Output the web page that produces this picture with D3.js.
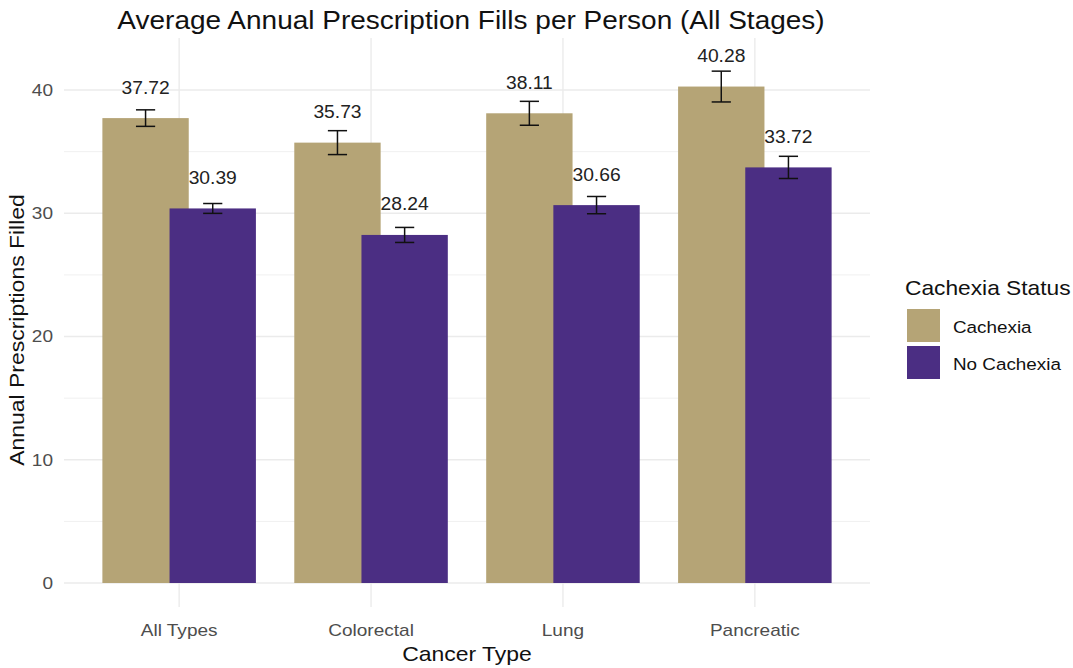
<!DOCTYPE html>
<html>
<head>
<meta charset="utf-8">
<script src="https://cdn.jsdelivr.net/npm/d3@7.9.0/dist/d3.min.js"></script>
<style>
  html, body { margin: 0; padding: 0; background: #fff; }
  svg { display: block; font-family: "Liberation Sans", Arial, sans-serif; }
</style>
</head>
<body>
<svg id="chart" width="1073" height="668"></svg>
<script>
// ---------- Data ----------
const cancerTypes = ["All Types", "Colorectal", "Lung", "Pancreatic"];
const statuses = ["Cachexia", "No Cachexia"];
const cachexiaMean = [37.72, 35.73, 38.11, 40.28];
const noCachexiaMean = [30.39, 28.24, 30.66, 33.72];
const cachexiaErr = [0.67, 0.97, 0.97, 1.25];
const noCachexiaErr = [0.4, 0.61, 0.7, 0.9];
const yTicks = [0, 10, 20, 30, 40];
const yMinorTicks = [5, 15, 25, 35];

const rows = cancerTypes.flatMap((t, i) => [
  { type: t, status: statuses[0], mean: cachexiaMean[i], err: cachexiaErr[i] },
  { type: t, status: statuses[1], mean: noCachexiaMean[i], err: noCachexiaErr[i] },
]);

// ---------- Layout ----------
const svg = d3.select("#chart");
const panel = { left: 64, right: 870, top: 38, bottom: 607 };
const WIDE = 1.12; // reference font runs wider than Liberation Sans

// ggplot-style discrete expansion: 0.6 of a step on each side
const xScale = d3.scalePoint()
  .domain(cancerTypes)
  .range([panel.left, panel.right])
  .padding(0.6);
const step = xScale.step();

const yScale = d3.scaleLinear().domain([0, 40]).range([583, 90]);

const color = d3.scaleOrdinal().domain(statuses).range(["#b5a476", "#4b2e83"]);
const dodge = d3.scaleOrdinal().domain(statuses).range([-0.175, 0.175]);
const barW = 0.45 * step;
const capW = 0.1 * step;
const barX = (d) => xScale(d.type) + dodge(d.status) * step;

// ---------- Grid ----------
const grid = svg.append("g");
grid.selectAll("line.minor")
  .data(yMinorTicks)
  .join("line")
  .attr("x1", panel.left).attr("x2", panel.right)
  .attr("y1", (d) => yScale(d)).attr("y2", (d) => yScale(d))
  .attr("stroke", "#f0f0f0").attr("stroke-width", 1);
grid.selectAll("line.major")
  .data(yTicks)
  .join("line")
  .attr("x1", panel.left).attr("x2", panel.right)
  .attr("y1", (d) => yScale(d)).attr("y2", (d) => yScale(d))
  .attr("stroke", "#ebebeb").attr("stroke-width", 1.4);
grid.selectAll("line.vert")
  .data(cancerTypes)
  .join("line")
  .attr("x1", (d) => xScale(d)).attr("x2", (d) => xScale(d))
  .attr("y1", panel.top).attr("y2", panel.bottom)
  .attr("stroke", "#ebebeb").attr("stroke-width", 1.4);

// ---------- Bars ----------
svg.append("g")
  .selectAll("rect")
  .data(rows)
  .join("rect")
  .attr("x", (d) => barX(d) - barW / 2)
  .attr("width", barW)
  .attr("y", (d) => yScale(d.mean))
  .attr("height", (d) => yScale(0) - yScale(d.mean))
  .attr("fill", (d) => color(d.status));

// ---------- Error bars ----------
const eb = svg.append("g")
  .attr("stroke", "#111")
  .attr("stroke-width", 1.5)
  .attr("fill", "none");
rows.forEach((d) => {
  const cx = barX(d);
  const y1 = yScale(d.mean + d.err);
  const y0 = yScale(d.mean - d.err);
  eb.append("line").attr("x1", cx).attr("x2", cx).attr("y1", y1).attr("y2", y0);
  eb.append("line").attr("x1", cx - capW / 2).attr("x2", cx + capW / 2).attr("y1", y1).attr("y2", y1);
  eb.append("line").attr("x1", cx - capW / 2).attr("x2", cx + capW / 2).attr("y1", y0).attr("y2", y0);
});

// ---------- Value labels ----------
svg.append("g")
  .selectAll("text")
  .data(rows)
  .join("text")
  .attr("transform", (d) => `translate(${barX(d)}, ${yScale(d.mean + 2.5)}) scale(1.07, 1)`)
  .attr("dy", "0.35em")
  .attr("text-anchor", "middle")
  .attr("font-size", 18)
  .attr("fill", "#222")
  .text((d) => d.mean.toFixed(2));

// ---------- Axes text ----------
svg.append("g")
  .selectAll("text")
  .data(yTicks)
  .join("text")
  .attr("transform", (d) => `translate(53, ${yScale(d)}) scale(${WIDE}, 1)`)
  .attr("dy", "0.35em")
  .attr("text-anchor", "end")
  .attr("font-size", 17)
  .attr("fill", "#4d4d4d")
  .text((d) => d);

svg.append("g")
  .selectAll("text")
  .data(cancerTypes)
  .join("text")
  .attr("transform", (d) => `translate(${xScale(d)}, 630) scale(${WIDE}, 1)`)
  .attr("dy", "0.35em")
  .attr("text-anchor", "middle")
  .attr("font-size", 17)
  .attr("fill", "#4d4d4d")
  .text((d) => d);

svg.append("text")
  .attr("transform", `translate(${(panel.left + panel.right) / 2}, 654) scale(${WIDE}, 1)`)
  .attr("dy", "0.35em")
  .attr("text-anchor", "middle")
  .attr("font-size", 20.5)
  .attr("fill", "#111")
  .text("Cancer Type");

svg.append("text")
  .attr("transform", `translate(17, 330) rotate(-90) scale(${WIDE}, 1)`)
  .attr("dy", "0.35em")
  .attr("text-anchor", "middle")
  .attr("font-size", 20.5)
  .attr("fill", "#111")
  .text("Annual Prescriptions Filled");

svg.append("text")
  .attr("transform", `translate(${(panel.left + panel.right) / 2 + 4}, 20) scale(1.12, 1)`)
  .attr("dy", "0.35em")
  .attr("text-anchor", "middle")
  .attr("font-size", 25)
  .attr("fill", "#111")
  .text("Average Annual Prescription Fills per Person (All Stages)");

// ---------- Legend ----------
const legend = svg.append("g").attr("transform", "translate(905, 288)");
legend.append("text")
  .attr("transform", `scale(1.11, 1)`)
  .attr("dy", "0.35em")
  .attr("font-size", 20.5).attr("fill", "#111")
  .text("Cachexia Status");
const items = legend.selectAll("g.item")
  .data(statuses)
  .join("g")
  .attr("transform", (d, i) => `translate(2, ${21 + i * 37})`);
items.append("rect")
  .attr("width", 33).attr("height", 33)
  .attr("fill", (d) => color(d));
items.append("text")
  .attr("transform", `translate(46, 18) scale(1.11, 1)`)
  .attr("dy", "0.35em")
  .attr("font-size", 17).attr("fill", "#111")
  .text((d) => d);
</script>
</body>
</html>
